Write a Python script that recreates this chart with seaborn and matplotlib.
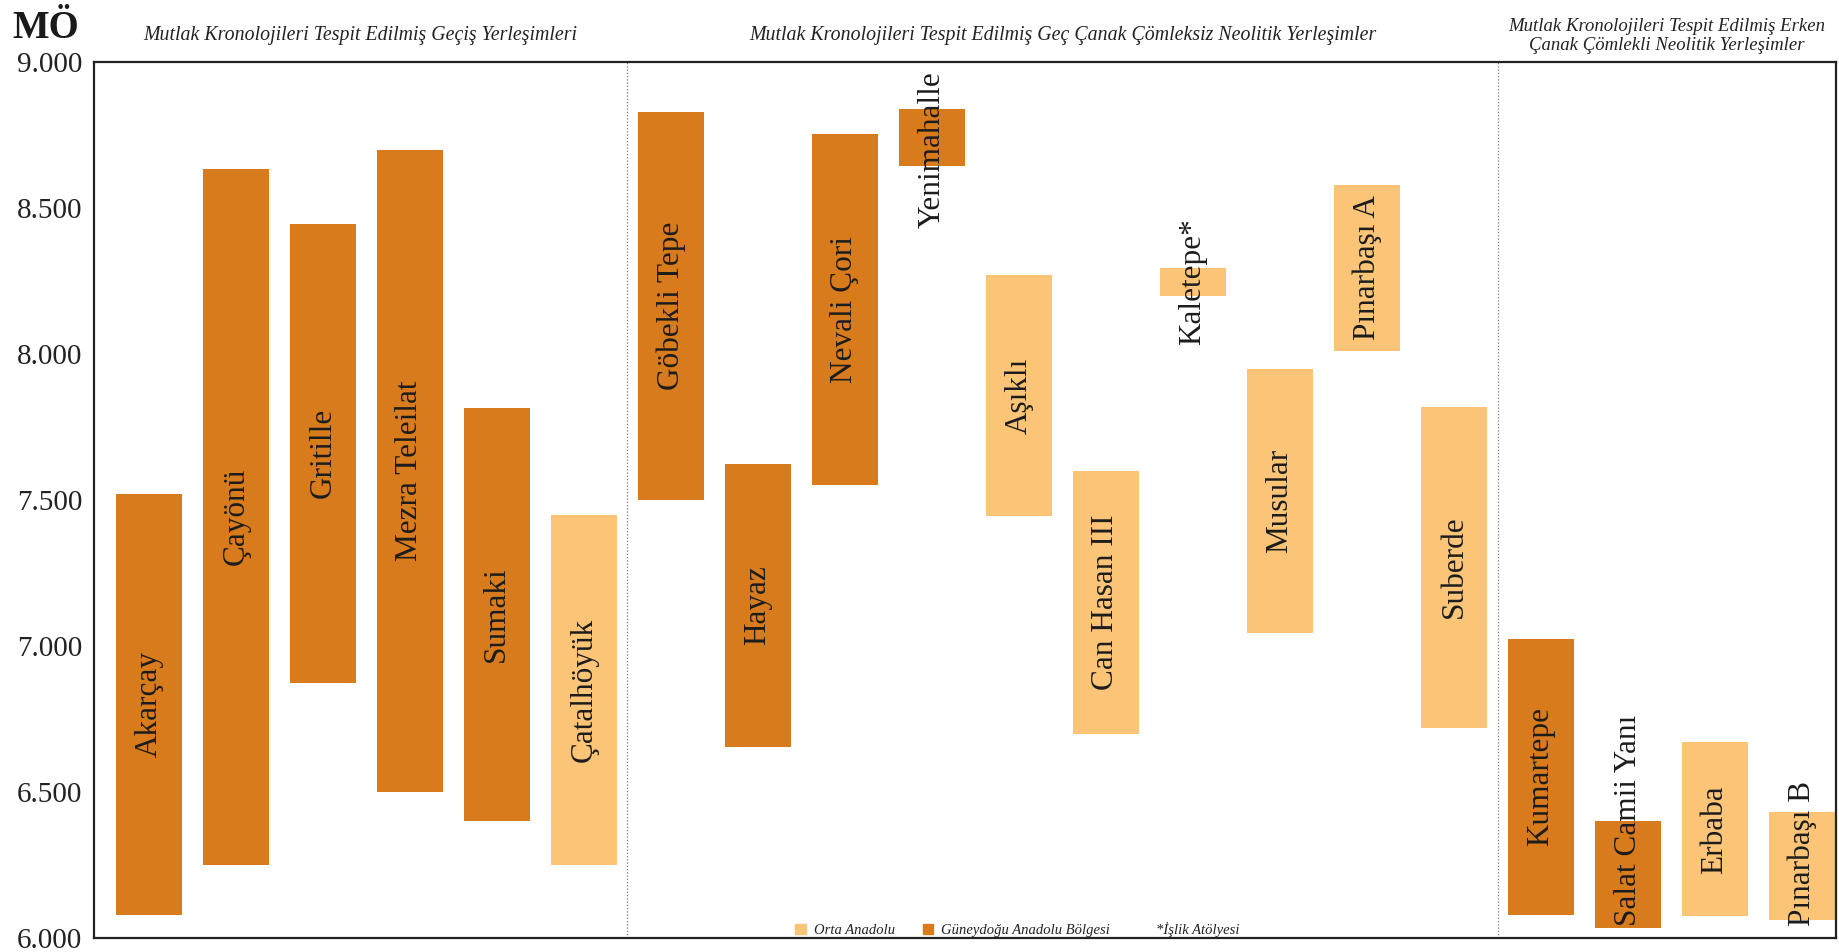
import pandas as pd
import seaborn as sns
import matplotlib.pyplot as plt
from matplotlib.patches import Patch
from matplotlib.transforms import blended_transform_factory

# settlements, oldest date (MÖ) and youngest date (MÖ)
sites = ['Akarçay', 'Çayönü', 'Gritille', 'Mezra Teleilat', 'Sumaki', 'Çatalhöyük',
         'Göbekli Tepe', 'Hayaz', 'Nevali Çori', 'Yenimahalle', 'Aşıklı', 'Can Hasan III',
         'Kaletepe*', 'Musular', 'Pınarbaşı A', 'Suberde',
         'Kumartepe', 'Salat Camii Yanı', 'Erbaba', 'Pınarbaşı B']
start_bc = [7520, 8635, 8445, 8700, 7815, 7450,
            8830, 7625, 8755, 8840, 8270, 7600, 8295, 7950, 8580, 7820,
            7025, 6400, 6670, 6430]
end_bc = [6080, 6250, 6875, 6500, 6400, 6250,
          7500, 6655, 7550, 8645, 7445, 6700, 8200, 7045, 8010, 6720,
          6080, 6035, 6075, 6060]
regions = ['GD', 'GD', 'GD', 'GD', 'GD', 'OA',
           'GD', 'GD', 'GD', 'GD', 'OA', 'OA', 'OA', 'OA', 'OA', 'OA',
           'GD', 'GD', 'OA', 'OA']
periods = [0] * 6 + [1] * 10 + [2] * 4
period_titles = ['Mutlak Kronolojileri Tespit Edilmiş Geçiş Yerleşimleri',
                 'Mutlak Kronolojileri Tespit Edilmiş Geç Çanak Çömleksiz Neolitik Yerleşimler',
                 'Mutlak Kronolojileri Tespit Edilmiş Erken\nÇanak Çömlekli Neolitik Yerleşimler']
region_names = {'OA': 'Orta Anadolu', 'GD': 'Güneydoğu Anadolu Bölgesi'}
region_colors = {'OA': '#FCC477', 'GD': '#D87B1D'}
y_ticks = [6000, 6500, 7000, 7500, 8000, 8500, 9000]


def main():
    sns.set_style('white')
    plt.rcParams['font.family'] = ['Liberation Serif', 'DejaVu Serif']

    df = pd.DataFrame({'site': sites, 'start': start_bc, 'end': end_bc, 'region': regions})
    df['span'] = df['start'] - df['end']

    fig = plt.figure(figsize=(18.4, 9.52), dpi=100)
    ax = fig.add_axes([94 / 1840, 14 / 952, 1742 / 1840, 876 / 952])

    sns.barplot(data=df, x='site', y='span', hue='site',
                palette=[region_colors[r] for r in regions], legend=False,
                width=0.76, errorbar=None, saturation=1, linewidth=0, ax=ax)
    # lift each bar so it floats from its younger to its older date
    for p in ax.patches:
        i = int(round(p.get_x() + p.get_width() / 2))
        p.set_y(df['end'][i])

    ax.set_xlim(-0.63, 19.39)
    ax.set_ylim(6000, 9000)
    ax.set_yticks(y_ticks)
    ax.set_yticklabels([f'{v:,}'.replace(',', '.') for v in y_ticks])
    ax.tick_params(axis='y', length=0, pad=8.5, labelsize=21, labelcolor='#222222')
    ax.set_xticks([])
    ax.set_xlabel('')
    ax.set_ylabel('')
    for s in ax.spines.values():
        s.set_visible(True)
        s.set_color('#222222')
        s.set_linewidth(1.6)

    # period dividers and titles
    breaks = [i + 0.5 for i in range(len(periods) - 1) if periods[i] != periods[i + 1]]
    for b in breaks:
        ax.axvline(b, color='#7a7a7a', lw=0.9, ls=(0, (1, 1.6)))
    x0, x1 = ax.get_xlim()
    bounds = [x0] + breaks + [x1]
    trans = blended_transform_factory(ax.transData, fig.transFigure)
    for k, title in enumerate(period_titles):
        cx = (bounds[k] + bounds[k + 1]) / 2
        if '\n' in title:
            fig.text(cx, 0.962, title, transform=trans, ha='center', va='center',
                     style='italic', fontsize=13.5, color='#222222', linespacing=1.2)
        else:
            fig.text(cx, 912 / 952, title, transform=trans, ha='center', va='baseline',
                     style='italic', fontsize=14.3, color='#222222')

    fig.text(12 / 1840, 914 / 952, 'MÖ', ha='left', va='baseline',
             fontsize=28, fontweight='bold', color='#1a1a1a')

    # site names, kept inside the plot area when longer than the bar
    labels = []
    for i, row in df.iterrows():
        labels.append(ax.text(i, (row['start'] + row['end']) / 2, row['site'],
                              rotation=90, ha='center', va='center',
                              fontsize=22.5, color='#1c1c1c'))
    fig.canvas.draw()
    renderer = fig.canvas.get_renderer()
    inv = ax.transData.inverted()
    y0, y1 = ax.get_ylim()
    top_pad = 0.01 * (y1 - y0)
    bot_pad = 0.014 * (y1 - y0)
    for t in labels:
        bb = t.get_window_extent(renderer)
        lo = inv.transform((bb.x0, bb.y0))[1]
        hi = inv.transform((bb.x1, bb.y1))[1]
        x, y = t.get_position()
        if hi > y1 - top_pad:
            y -= hi - (y1 - top_pad)
        elif lo < y0 + bot_pad:
            y += y0 + bot_pad - lo
        t.set_position((x, y))

    handles = [Patch(color=region_colors['OA'], label=region_names['OA']),
               Patch(color=region_colors['GD'], label=region_names['GD']),
               Patch(color='none', label='*İşlik Atölyesi')]
    ax.legend(handles=handles, loc='lower center', bbox_to_anchor=(0.53, 0), ncol=3,
              frameon=False, borderaxespad=0, borderpad=0.05,
              prop={'style': 'italic', 'size': 10.5}, handlelength=0.7,
              handleheight=0.7, handletextpad=0.55, columnspacing=1.9,
              labelcolor='#222222')

    fig.savefig('out.png', dpi=100)
    plt.close(fig)


if __name__ == '__main__':
    main()
